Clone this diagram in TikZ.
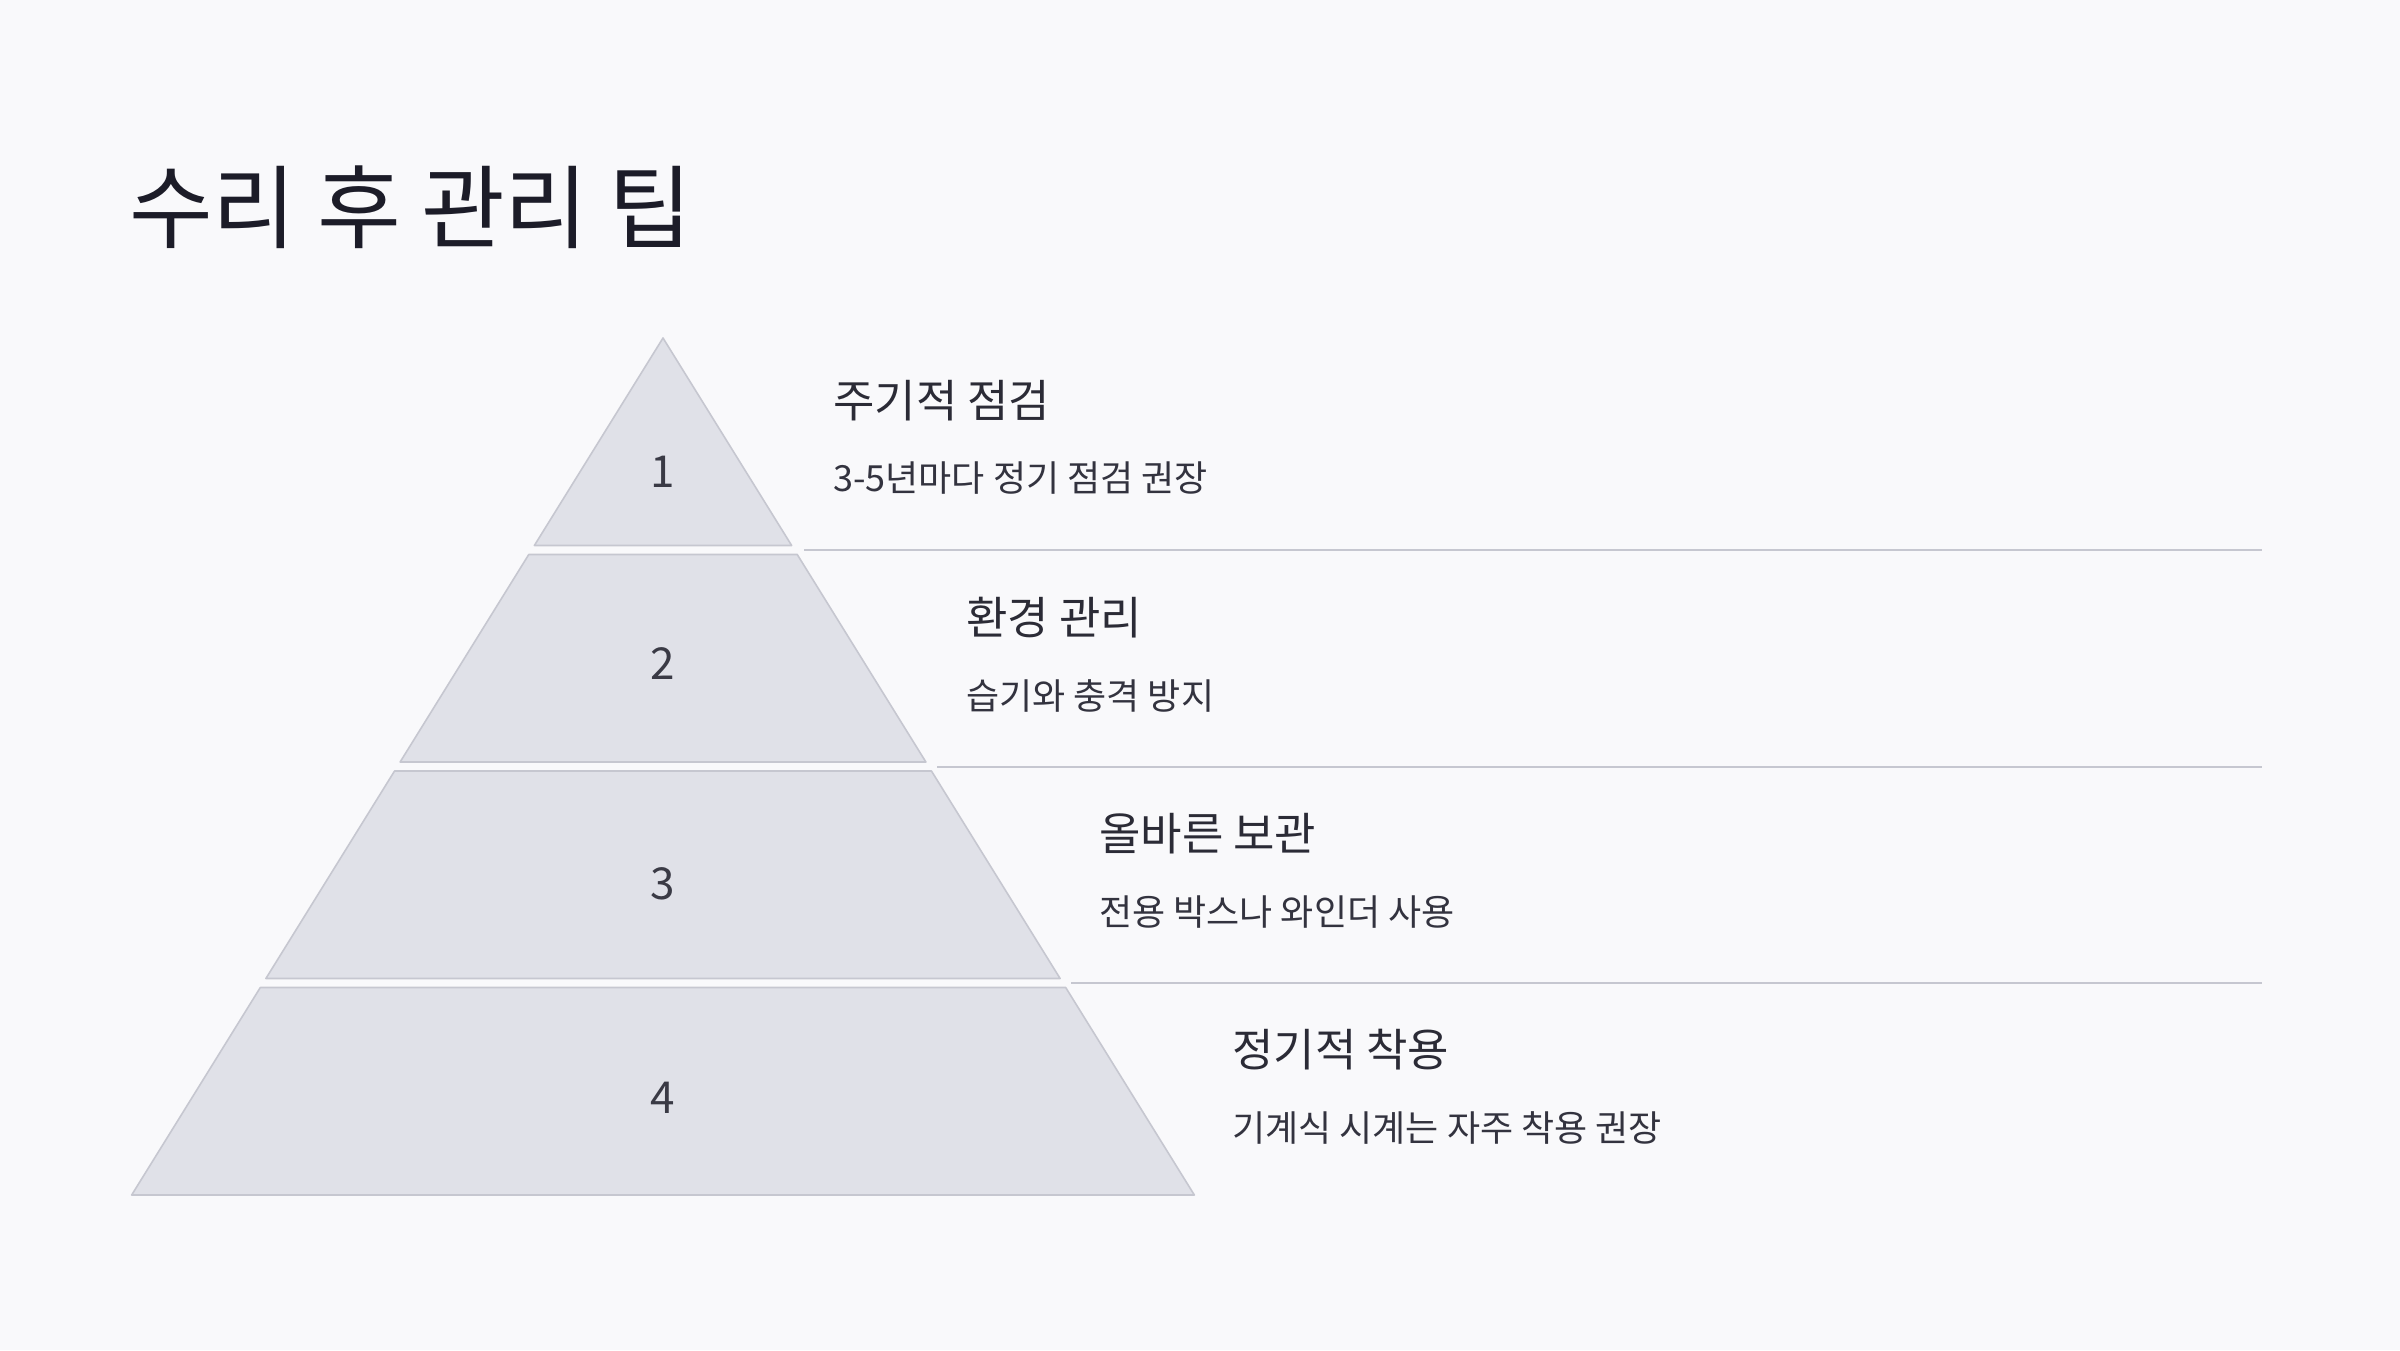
\documentclass[tikz,border=0pt]{standalone}
\usepackage{fontspec}
\setmainfont{Noto Sans CJK KR}
\definecolor{bgc}{HTML}{F9F9FB}
\definecolor{tierfill}{HTML}{E0E1E8}
\definecolor{tierline}{HTML}{C6C7D0}
\definecolor{titlec}{HTML}{1C1C28}
\definecolor{headc}{HTML}{2B2B36}
\definecolor{subc}{HTML}{33333F}
\definecolor{numc}{HTML}{3A3A45}
\tikzset{
  tier/.style={fill=tierfill, draw=tierline, line width=1.6pt, line join=round},
  sepline/.style={draw=tierline, line width=2pt},
  numtext/.style={anchor=base, inner sep=0pt, text=numc, font=\fontsize{44}{50}\selectfont},
  headtext/.style={anchor=base west, inner sep=0pt, text=headc, font=\fontsize{45}{50}\selectfont},
  subtext/.style={anchor=base west, inner sep=0pt, text=subc, font=\fontsize{36}{40}\selectfont},
}
\begin{document}
\begin{tikzpicture}[x=1pt,y=-1pt]
\fill[bgc] (0,0) rectangle (2400,1350);
\useasboundingbox (0,0) rectangle (2400,1350);
% title
\node[anchor=base west, inner sep=0pt, text=titlec, font=\fontsize{91}{100}\selectfont] (title) at (129,241) {수리 후 관리 팁};
% tiers
\path[tier] (663,338) -- (534.35,545.5) -- (791.65,545.5) -- cycle;
\path[tier] (528.77,554.5) -- (797.23,554.5) -- (925.88,762) -- (400.12,762) -- cycle;
\path[tier] (394.54,771) -- (931.46,771) -- (1060.11,978.5) -- (265.89,978.5) -- cycle;
\path[tier] (260.31,987.5) -- (1065.69,987.5) -- (1194.34,1195) -- (131.66,1195) -- cycle;
% separators
\draw[sepline] (804,550) -- (2262,550);
\draw[sepline] (937,766.5) -- (2262,766.5);
\draw[sepline] (1071,983) -- (2262,983);
% numbers
\node[numtext] (n1) at (663,487) {1};
\node[numtext] (n2) at (663,679) {2};
\node[numtext] (n3) at (663,899) {3};
\node[numtext] (n4) at (663,1113) {4};
% headings and descriptions
\node[headtext] (h1) at (833,417) {주기적 점검};
\node[subtext] (s1) at (833,491) {3-5년마다 정기 점검 권장};
\node[headtext] (h2) at (966,634) {환경 관리};
\node[subtext] (s2) at (966,709) {습기와 충격 방지};
\node[headtext] (h3) at (1099,850) {올바른 보관};
\node[subtext] (s3) at (1099,925) {전용 박스나 와인더 사용};
\node[headtext] (h4) at (1232,1066) {정기적 착용};
\node[subtext] (s4) at (1232,1141) {기계식 시계는 자주 착용 권장};
\end{tikzpicture}
\end{document}
